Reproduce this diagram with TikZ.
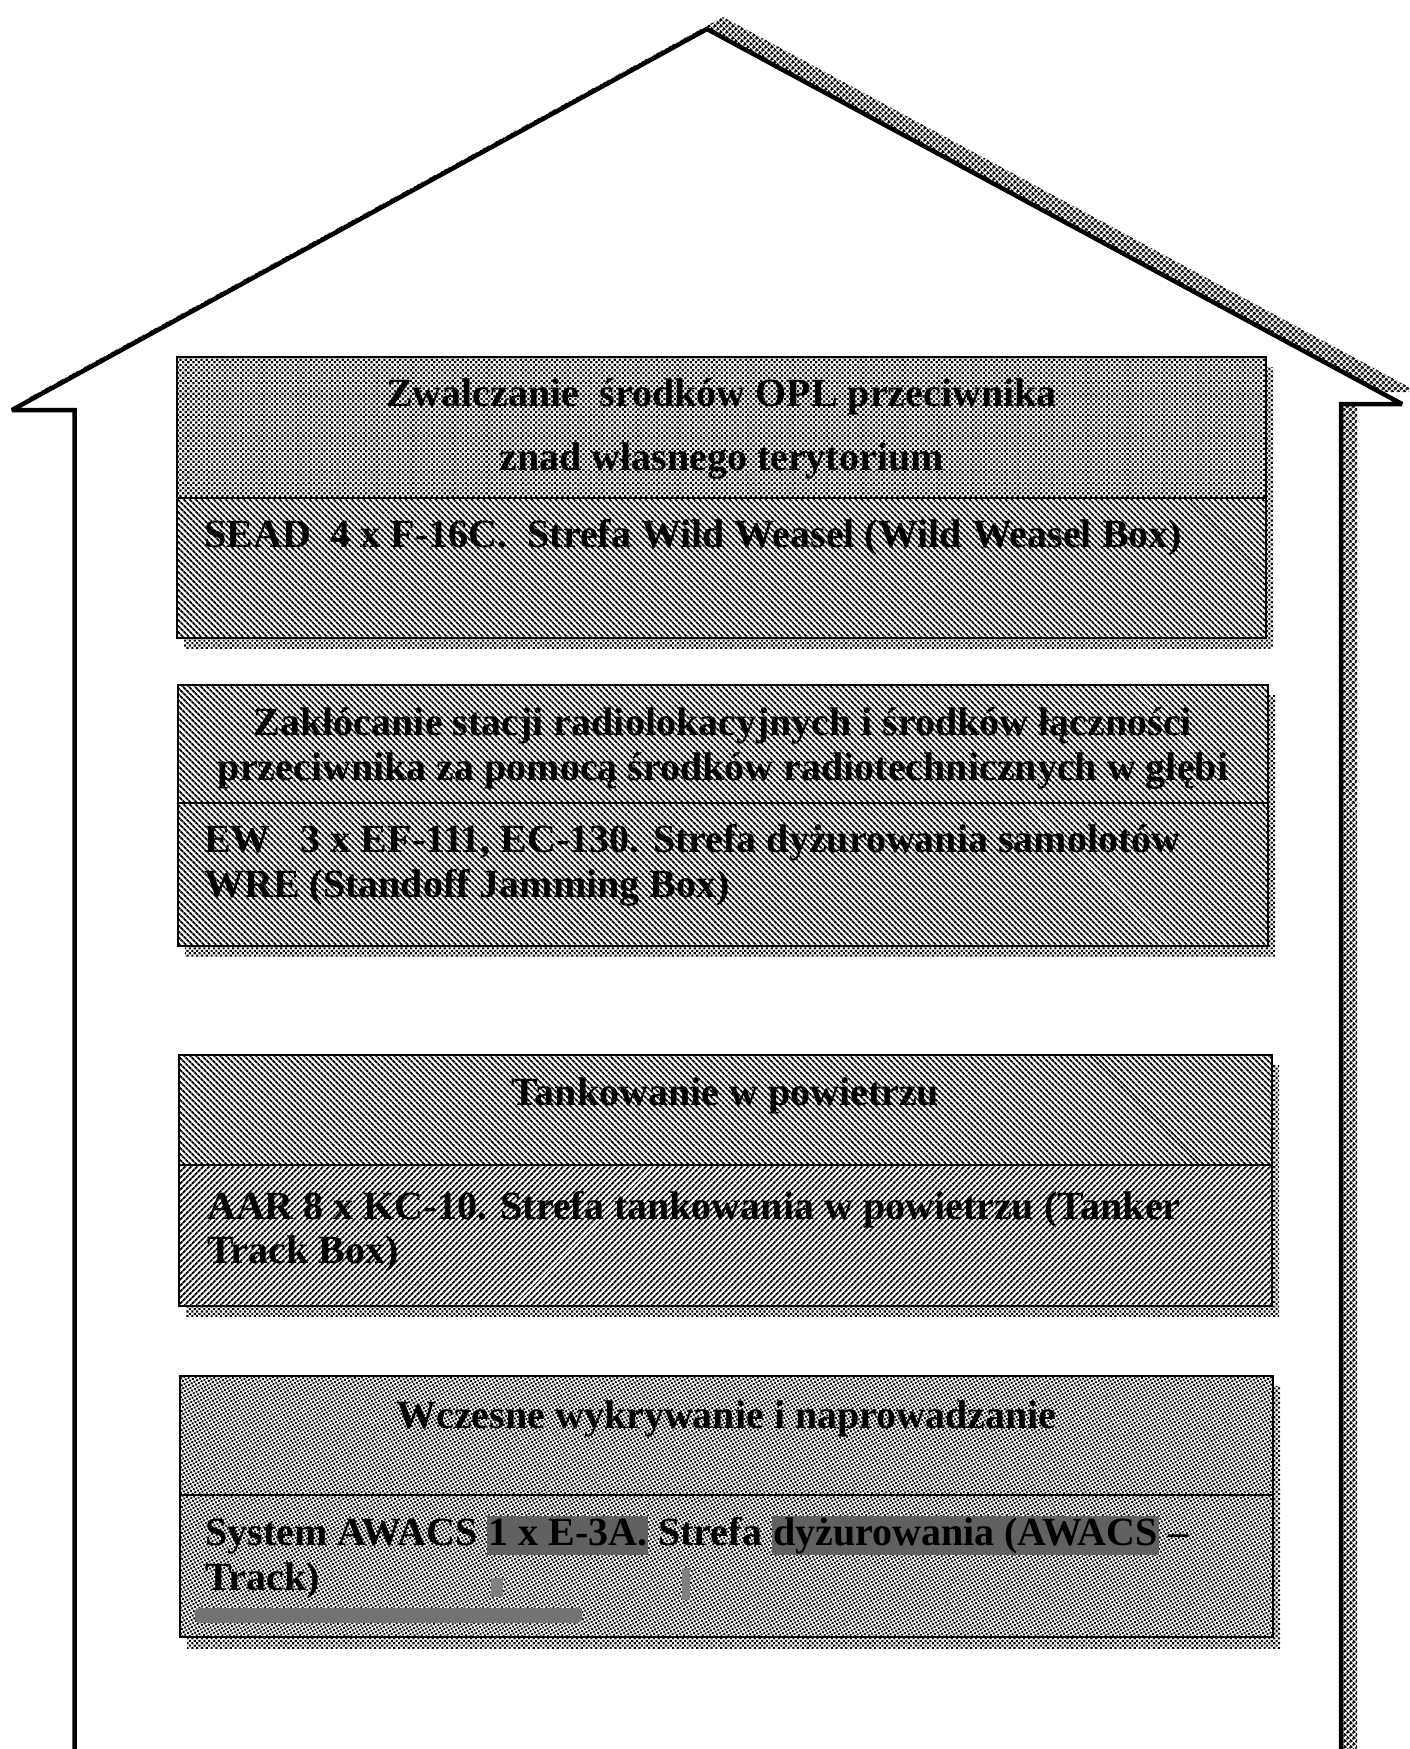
\documentclass[tikz,border=0pt]{standalone}
\usepackage{fontspec}
\setmainfont{Liberation Serif}
\usetikzlibrary{patterns.meta}
\definecolor{hlgray}{gray}{0.38}
\newcommand\hlb[1]{{\setlength\fboxsep{1pt}\colorbox{hlgray}{\vphantom{(y}#1}}}
\tikzset{
  houseline/.style={line width=4.5pt, line join=miter, miter limit=4},
  boxborder/.style={draw=black, line width=1.6pt},
  divline/.style={draw=black, line width=1.6pt},
  houseshadow/.style={pattern={Dots[distance=4pt,radius=1.75pt,angle=45]}},
  boxshadow/.style={pattern={Dots[distance=3.4pt,radius=1.5pt,angle=45]}},
  patdots/.style={pattern={Dots[distance=3.7pt,radius=1.6pt,angle=45]}},
  patfine/.style={pattern={Dots[distance=3.2pt,radius=1.35pt,angle=30]}},
  patnw/.style={pattern={Lines[angle=-45,distance=4pt,line width=2.1pt]}},
  patne/.style={pattern={Lines[angle=45,distance=4pt,line width=2.1pt]}},
  hdr/.style={anchor=base, inner sep=0pt, font=\fontsize{40}{46}\selectfont\bfseries},
  txt/.style={anchor=base west, inner sep=0pt, font=\fontsize{40}{46}\selectfont\bfseries},
  smudge/.style={fill=black!55, rounded corners=4pt}
}
\begin{document}
\begin{tikzpicture}[x=1pt,y=-1pt]
\useasboundingbox (0,0) rectangle (1409,1749);
\begin{scope}
\clip (0,0) rectangle (1409,1749);
% house shadow
\fill[houseshadow, shift={(16,-12)}] (12,410) -- (707,29) -- (1402,404) -- (1341,404) -- (1341,1800) -- (74.5,1800) -- (74.5,410) -- cycle;
% house outline
\draw[houseline, fill=white] (12,410) -- (707,29) -- (1402,404) -- (1341,404) -- (1341,1800) -- (74.5,1800) -- (74.5,410) -- cycle;
\end{scope}

% ---------- box 1
\fill[boxshadow] (184,367) rectangle (1273,648);
\fill[white] (177,357) rectangle (1266,638);
\fill[patdots] (177,357) rectangle (1266,498);
\fill[patnw] (177,498) rectangle (1266,638);
\draw[boxborder] (177,357) rectangle (1266,638);
\draw[divline] (177,498) -- (1266,498);
\node[hdr] (b1h1) at (721.5,406) {Zwalczanie\ \ środków OPL przeciwnika};
\node[hdr] (b1h2) at (721.5,470) {znad własnego terytorium};
\node[txt] (b1t1) at (204,547) {SEAD\ \ 4 x F-16C.\ \ Strefa Wild Weasel (Wild Weasel Box)};

% ---------- box 2
\fill[boxshadow] (185,695) rectangle (1275,956);
\fill[white] (178,685) rectangle (1268,946);
\fill[patnw] (178,685) rectangle (1268,803);
\fill[patnw] (178,803) rectangle (1268,946);
\draw[boxborder] (178,685) rectangle (1268,946);
\draw[divline] (178,803) -- (1268,803);
\node[hdr] (b2h1) at (723,735) {Zakłócanie stacji radiolokacyjnych i środków łączności};
\node[hdr] (b2h2) at (723,780) {przeciwnika za pomocą środków radiotechnicznych w głębi};
\node[txt] (b2t1) at (204,852) {EW\ \ \ 3 x EF-111, EC-130. Strefa dyżurowania samolotów};
\node[txt] (b2t2) at (204,897) {WRE (Standoff Jamming Box)};

% ---------- box 3
\fill[boxshadow] (186,1065) rectangle (1279,1316);
\fill[white] (179,1055) rectangle (1272,1306);
\fill[patnw] (179,1055) rectangle (1272,1165);
\fill[patne] (179,1165) rectangle (1272,1306);
\draw[boxborder] (179,1055) rectangle (1272,1306);
\draw[divline] (179,1165) -- (1272,1165);
\node[hdr] (b3h1) at (725.5,1105) {Tankowanie w powietrzu};
\node[txt] (b3t1) at (207,1219) {AAR 8 x KC-10. Strefa tankowania w powietrzu (Tanker};
\node[txt] (b3t2) at (207,1263) {Track Box)};

% ---------- box 4
\fill[boxshadow] (187,1386) rectangle (1280,1648);
\fill[white] (180,1376) rectangle (1273,1637);
\fill[patfine] (180,1376) rectangle (1273,1495);
\fill[patfine] (180,1495) rectangle (1273,1637);
\draw[boxborder] (180,1376) rectangle (1273,1637);
\draw[divline] (180,1495) -- (1273,1495);
\node[hdr] (b4h1) at (726.5,1428) {Wczesne wykrywanie i naprowadzanie};
\node[txt] (b4t1) at (205,1545) {System AWACS \hlb{1 x E-3A.} Strefa \hlb{dyżurowania (AWACS} –};
\node[txt] (b4t2) at (205,1590) {Track)};
\fill[smudge] (195,1608) rectangle (582,1623);
\fill[black!50] (491,1578) rectangle (503,1597);
\fill[black!50] (682,1568) rectangle (690,1600);
\end{tikzpicture}
\end{document}
